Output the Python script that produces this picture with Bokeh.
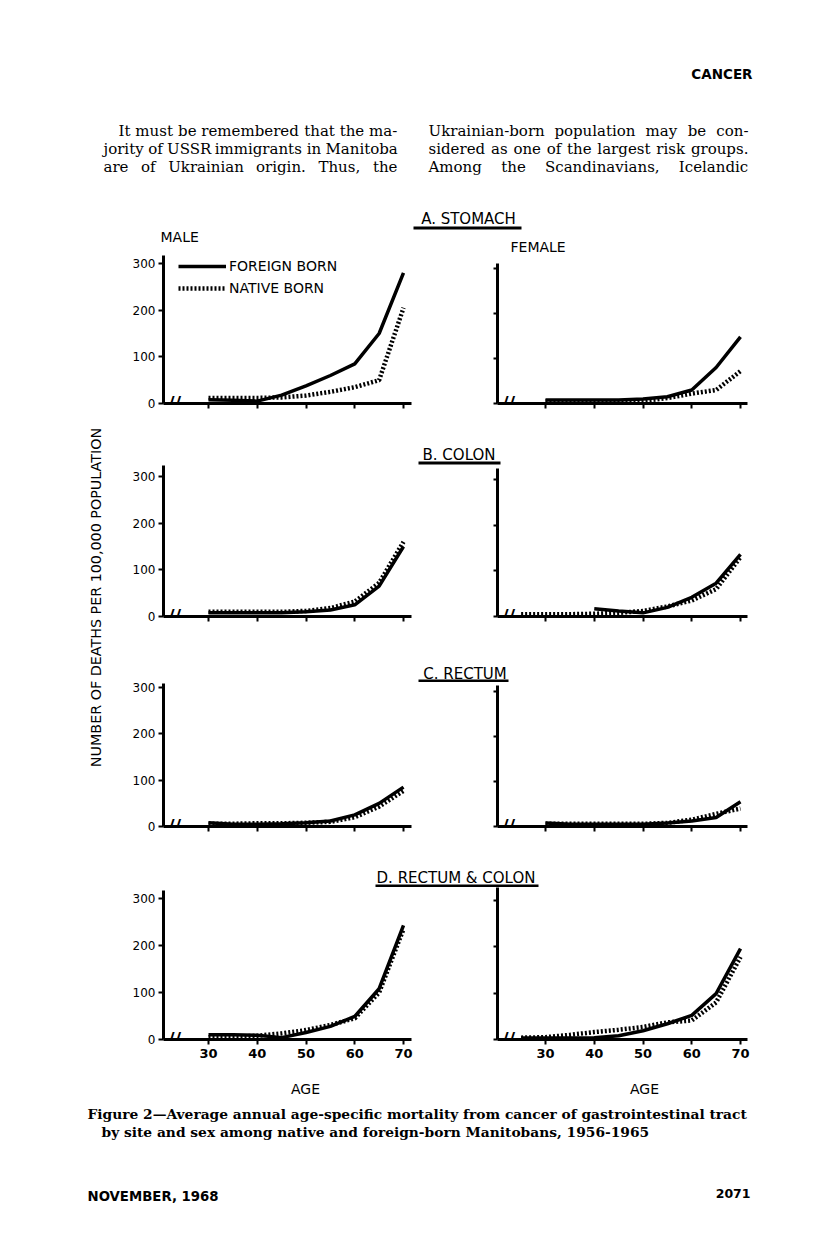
import math
from bokeh.plotting import figure
from bokeh.layouts import column, row
from bokeh.models import Range1d, FixedTicker, Legend, LegendItem, Label
from bokeh.core.properties import value
from bokeh.embed import file_html
from bokeh.resources import INLINE

NaN = float("nan")

# ---------------- data ----------------
ages = [25, 30, 35, 40, 45, 50, 55, 60, 65, 70]
age_ticks = [30, 40, 50, 60, 70]
rate_ticks = [0, 100, 200, 300]

series_labels = ["FOREIGN BORN", "NATIVE BORN"]
site_titles = ["A. STOMACH", "B. COLON", "C. RECTUM", "D. RECTUM & COLON"]
sex_labels = ["MALE", "FEMALE"]
y_title = "NUMBER OF DEATHS PER 100,000 POPULATION"
x_title = "AGE"

stomach_male_foreign = [NaN, 8, 7, 5, 18, 38, 60, 85, 150, 280]
stomach_male_native = [NaN, 12, 12, 12, 13, 17, 25, 35, 50, 205]
stomach_female_foreign = [NaN, 8, 8, 8, 8, 10, 15, 30, 80, 148]
stomach_female_native = [NaN, 5, 5, 5, 5, 6, 12, 22, 30, 72]

colon_male_foreign = [NaN, 8, 8, 8, 8, 10, 14, 25, 65, 150]
colon_male_native = [NaN, 10, 10, 10, 10, 12, 18, 32, 72, 160]
colon_female_foreign = [NaN, NaN, NaN, 17, 12, 8, 20, 42, 73, 136]
colon_female_native = [5, 5, 5, 6, 8, 12, 22, 35, 60, 130]

rectum_male_foreign = [NaN, 8, 5, 5, 6, 8, 12, 25, 50, 85]
rectum_male_native = [NaN, 6, 6, 7, 7, 8, 10, 20, 43, 77]
rectum_female_foreign = [NaN, 8, 5, 5, 5, 5, 8, 12, 20, 55]
rectum_female_native = [NaN, 6, 6, 6, 6, 6, 8, 15, 28, 40]

rc_male_foreign = [NaN, 10, 10, 9, 4, 15, 28, 49, 108, 243]
rc_male_native = [NaN, 5, 6, 8, 13, 20, 31, 45, 100, 235]
rc_female_foreign = [3, 3, 3, 4, 8, 19, 34, 52, 99, 196]
rc_female_native = [4, 5, 10, 16, 21, 27, 37, 41, 80, 178]

male_series = [(stomach_male_foreign, stomach_male_native),
               (colon_male_foreign, colon_male_native),
               (rectum_male_foreign, rectum_male_native),
               (rc_male_foreign, rc_male_native)]
female_series = [(stomach_female_foreign, stomach_female_native),
                 (colon_female_foreign, colon_female_native),
                 (rectum_female_foreign, rectum_female_native),
                 (rc_female_foreign, rc_female_native)]

header_text = "CANCER"
para_left = ["It must be remembered that the ma-",
             "jority of USSR immigrants in Manitoba",
             "are of Ukrainian origin. Thus, the"]
para_right = ["Ukrainian-born population may be con-",
              "sidered as one of the largest risk groups.",
              "Among the Scandinavians, Icelandic"]
caption = ["Figure 2\u2014Average annual age-specific mortality from cancer of gastrointestinal tract",
           "by site and sex among native and foreign-born Manitobans, 1956-1965"]
footer_left = "NOVEMBER, 1968"
footer_right = "2071"

# ---------------- layout (page pixel coordinates) ----------------
PAGE_X = (0, 808)
HEADER_Y = (0, 200)
FOOTER_Y = (1075, 1230)
LEFT_X = (0, 113)
MALE_X = (113, 420)
FEMALE_X = (420, 808)
STRIPS = [(200, 255), (440, 465), (650, 682), (865, 887)]
ROWS = [(255, 440), (465, 650), (682, 865), (887, 1075)]
ROW_ZERO = [403, 616, 826, 1039]            # pixel y of the x axis in each row
MALE_FRAME_X = (163, 411)
MALE_AGE_PX = (208, 403)
FEMALE_FRAME_X = (497, 747)
FEMALE_AGE_PX = (545, 740)
MALE_AXES = [(263, 255), (476, 465), (687, 683), (898, 890)]      # (y of 300 tick, y-axis top)
FEMALE_AXES = [(268, 263), (479, 468), (691, 685), (900, 887)]
TITLE_POS = [(468, 218, 413, 521, 227.5), (458.5, 454, 418, 500, 462.5),
             (464.5, 673, 418, 508, 680.5), (455.5, 877, 375, 538, 885.5)]
SEX_POS = [(160, 236), (510, 246.5)]

SANS = "DejaVu Sans"
SERIF = "DejaVu Serif"

# approximate DejaVu Serif advance widths (1/2048 em) used to justify body text
_W = {"a": 1221, "b": 1315, "c": 1155, "d": 1315, "e": 1212, "f": 754, "g": 1315, "h": 1317,
      "i": 655, "j": 643, "k": 1243, "l": 655, "m": 1980, "n": 1317, "o": 1233, "p": 1315,
      "q": 1315, "r": 979, "s": 1055, "t": 827, "u": 1317, "v": 1186, "w": 1751, "x": 1184,
      "y": 1186, "z": 1108, "A": 1479, "B": 1429, "C": 1502, "D": 1589, "E": 1413, "F": 1325,
      "G": 1575, "H": 1720, "I": 827, "J": 827, "K": 1479, "L": 1308, "M": 2053, "N": 1693,
      "O": 1640, "P": 1347, "Q": 1640, "R": 1499, "S": 1376, "T": 1387, "U": 1675, "V": 1479,
      "W": 2118, "X": 1475, "Y": 1387, "Z": 1419, ".": 651, ",": 651, "-": 692, " ": 651}


def word_width(w, size):
    return sum(_W.get(c, 1200) for c in w) / 2048.0 * size


def canvas(x0, x1, y0, y1):
    p = figure(width=x1 - x0, height=y1 - y0,
               x_range=Range1d(x0, x1), y_range=Range1d(-y1, -y0),
               x_axis_type=None, y_axis_type=None,
               output_backend="svg", toolbar_location=None, min_border=0)
    p.outline_line_color = None
    p.background_fill_color = "white"
    p.border_fill_color = "white"
    return p


def put_text(p, x, y, txt, font=SANS, size=13, style="normal", align="left", angle=0.0):
    p.text(x=[x], y=[-y], text=[txt], text_font=value(font), text_font_size=f"{size}px",
           text_font_style=style, text_align=align, text_baseline="middle",
           text_color="black", angle=angle)


def justified(p, x0, x1, y, line, size):
    words = line.split(" ")
    widths = [word_width(w, size) for w in words]
    gap = (x1 - x0 - sum(widths)) / max(len(words) - 1, 1)
    gap = max(gap, word_width(" ", size) * 0.8)
    xs, cur = [], x0
    for w in widths:
        xs.append(cur)
        cur += w + gap
    p.text(x=xs, y=[-y] * len(words), text=words, text_font=value(SERIF),
           text_font_size=f"{size}px", text_align="left", text_baseline="middle",
           text_color="black")


def make_panel(fig_x, row_y, frame_x, age_px, zero, frame_top, axes, foreign, native,
               show_ylab, show_xlab, legend=False):
    fx0, fx1 = fig_x
    ry0, ry1 = row_y
    frx0, frx1 = frame_x
    y300, axis_top = axes
    ppy = (age_px[1] - age_px[0]) / (age_ticks[-1] - age_ticks[0])
    x_start = age_ticks[0] - (age_px[0] - frx0) / ppy
    x_end = age_ticks[-1] + (frx1 - age_px[1]) / ppy
    ppu = (zero - y300) / rate_ticks[-1]
    y_end = (zero - frame_top) / ppu
    p = figure(width=fx1 - fx0, height=ry1 - ry0,
               x_range=Range1d(x_start, x_end), y_range=Range1d(0, y_end),
               output_backend="svg", toolbar_location=None,
               min_border_left=frx0 - fx0, min_border_right=fx1 - frx1,
               min_border_top=frame_top - ry0, min_border_bottom=ry1 - zero)
    p.outline_line_color = None
    p.grid.visible = False
    p.xaxis.ticker = FixedTicker(ticks=age_ticks)
    p.yaxis.ticker = FixedTicker(ticks=rate_ticks)
    p.yaxis.bounds = (0, (zero - axis_top) / ppu)
    for ax in (p.xaxis, p.yaxis):
        ax.axis_line_width = 3
        ax.axis_line_color = "black"
        ax.major_tick_line_width = 2
        ax.major_tick_line_color = "black"
        ax.major_tick_in = 0
        ax.major_tick_out = 5
        ax.minor_tick_line_color = None
        ax.major_label_text_font = SANS
        ax.major_label_text_color = "black"
    p.xaxis.major_label_text_font_size = "13px"
    p.xaxis.major_label_text_font_style = "bold"
    p.xaxis.major_label_standoff = 4
    if not show_xlab:
        p.xaxis.major_label_text_color = None
    p.yaxis.major_label_text_font_size = "12px"
    p.yaxis.major_label_standoff = 3
    if not show_ylab:
        p.yaxis.major_label_text_color = None
        p.yaxis.major_tick_out = 4

    rf = p.line(ages, foreign, line_width=3.5, line_color="black")
    rn = p.line(ages, native, line_width=4.5, line_color="black", line_dash="2 2")

    # axis break mark
    p.add_layout(Label(x=x_start, y=0, x_offset=11, y_offset=1, text="//", text_font=SANS,
                       text_font_style="bold", text_font_size="18px", text_color="black",
                       text_align="center", text_baseline="middle"))

    if legend:
        lg = Legend(items=[LegendItem(label=series_labels[0], renderers=[rf]),
                           LegendItem(label=series_labels[1], renderers=[rn])],
                    location=(15, (zero - frame_top) - 41), orientation="vertical",
                    glyph_width=48, glyph_height=16, label_height=16,
                    label_standoff=3, spacing=6, padding=0, margin=0,
                    border_line_color=None, background_fill_alpha=0,
                    label_text_font=SANS, label_text_font_size="14px",
                    label_text_color="black")
        p.add_layout(lg)
    return p


# header
header = canvas(PAGE_X[0], PAGE_X[1], *HEADER_Y)
put_text(header, 752, 73, header_text, size=13.5, style="bold", align="right")
for i, line in enumerate(para_left):
    justified(header, 118 if i == 0 else 103, 397, 130 + 18 * i, line, 15)
for i, line in enumerate(para_right):
    justified(header, 428, 748, 130 + 18 * i, line, 15)

# left y label
ylab = canvas(LEFT_X[0], LEFT_X[1], STRIPS[0][0], ROWS[-1][1])
put_text(ylab, 95, 597, y_title, size=14.3, align="center", angle=math.pi / 2)

blocks = []
for i in range(4):
    s = canvas(MALE_X[0], FEMALE_X[1], *STRIPS[i])
    cx, cy, ux0, ux1, uy = TITLE_POS[i]
    put_text(s, cx, cy, site_titles[i], size=15, align="center")
    s.segment(x0=[ux0], y0=[-uy], x1=[ux1], y1=[-uy], line_width=3, line_color="black")
    if i == 0:
        for lab, (lx, ly) in zip(sex_labels, SEX_POS):
            put_text(s, lx, ly, lab, size=14)
    blocks.append(s)
    frame_top = max(ROWS[i][0], min(MALE_AXES[i][1], FEMALE_AXES[i][1]))
    m = make_panel(MALE_X, ROWS[i], MALE_FRAME_X, MALE_AGE_PX, ROW_ZERO[i], frame_top,
                   MALE_AXES[i], male_series[i][0], male_series[i][1], True, i == 3,
                   legend=(i == 0))
    f = make_panel(FEMALE_X, ROWS[i], FEMALE_FRAME_X, FEMALE_AGE_PX, ROW_ZERO[i], frame_top,
                   FEMALE_AXES[i], female_series[i][0], female_series[i][1], False, i == 3)
    blocks.append(row(m, f, spacing=0))

mid = row(ylab, column(*blocks, spacing=0), spacing=0)

footer = canvas(PAGE_X[0], PAGE_X[1], *FOOTER_Y)
put_text(footer, 305, 1088, x_title, size=14, align="center")
put_text(footer, 644, 1088, x_title, size=14, align="center")
put_text(footer, 87, 1113, caption[0], font=SERIF, size=13.8, style="bold")
put_text(footer, 101, 1131, caption[1], font=SERIF, size=13.8, style="bold")
put_text(footer, 87, 1196, footer_left, size=13.3, style="bold")
put_text(footer, 750, 1193, footer_right, size=12.5, style="bold", align="right")

layout = column(header, mid, footer, spacing=0)

open("out.html", "w").write(file_html(layout, INLINE))
